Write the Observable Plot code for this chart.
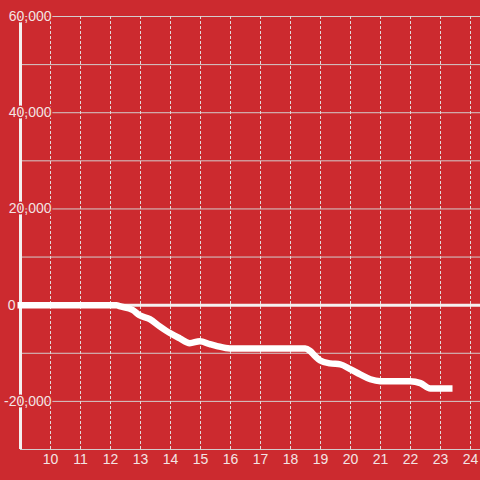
<!DOCTYPE html>
<html>
<head>
<meta charset="utf-8">
<script src="https://cdn.jsdelivr.net/npm/d3@7"></script>
<script src="https://cdn.jsdelivr.net/npm/@observablehq/plot@0.6"></script>
<style>
  html, body { margin: 0; padding: 0; background: #cc2a2f; }
  #chart { width: 480px; height: 480px; }
</style>
</head>
<body>
<div id="chart"></div>
<script>
// Data
const hours = [8.9, 12.2, 12.3, 12.74, 12.97, 13.31, 13.64, 13.98, 14.31, 14.64, 14.98, 15.31, 15.55, 15.98, 18.49, 18.65, 18.82, 18.99, 19.32, 19.66, 19.99, 20.32, 20.66, 20.99, 21.99, 22.33, 22.66, 23.4];
const values = [0, 0, -200, -1000, -2100, -2900, -4400, -5800, -6900, -7900, -7500, -8100, -8500, -9000, -9000, -9500, -10600, -11500, -12100, -12300, -13300, -14400, -15400, -15800, -15800, -16200, -17300, -17300];
const xTicks = [10, 11, 12, 13, 14, 15, 16, 17, 18, 19, 20, 21, 22, 23, 24];
const yLabelTicks = [60000, 40000, 20000, -20000];
const zeroTick = [0];
const yGrid = [60000, 50000, 40000, 30000, 20000, 10000, -10000, -20000, -30000];
const xDomain = [9, 24.333];
const yDomain = [-30000, 60000];

const data = hours.map((h, i) => ({hour: h, value: values[i]}));
const red = "#cc2a2f";
const labelColor = "#f3e4e4";
const fmt = d => d.toLocaleString("en-US");

const chart = Plot.plot({
  width: 480,
  height: 480,
  marginLeft: 20,
  marginRight: 0,
  marginTop: 16,
  marginBottom: 31,
  x: {domain: xDomain, axis: null},
  y: {domain: yDomain, axis: null},
  style: {background: red, fontFamily: "'Liberation Sans', Arial, sans-serif", fontSize: "14px", overflow: "visible"},
  marks: [
    Plot.ruleY(yGrid, {stroke: "#d3cccc", strokeWidth: 1}),
    Plot.ruleX(xTicks, {stroke: "#e2dada", strokeWidth: 1, strokeDasharray: "3,2"}),
    Plot.ruleY([0], {stroke: "#f4f0f0", strokeWidth: 3}),
    Plot.ruleX([xDomain[0]], {stroke: "#f4f0f0", strokeWidth: 3}),
    Plot.line(data, {x: "hour", y: "value", stroke: "#ffffff", strokeWidth: 6.5, curve: "monotone-x", strokeLinecap: "butt", strokeLinejoin: "round"}),
    Plot.text(yLabelTicks, {y: d => d, frameAnchor: "left", dx: 31, textAnchor: "end", text: fmt, fill: labelColor, stroke: red, strokeWidth: 3}),
    Plot.text(zeroTick, {y: d => d, frameAnchor: "left", dx: -5, textAnchor: "end", text: fmt, fill: labelColor}),
    Plot.text(xTicks, {x: d => d, frameAnchor: "bottom", lineAnchor: "top", dy: 5, text: d => String(d), fill: labelColor})
  ]
});
document.getElementById("chart").appendChild(chart);
</script>
</body>
</html>
